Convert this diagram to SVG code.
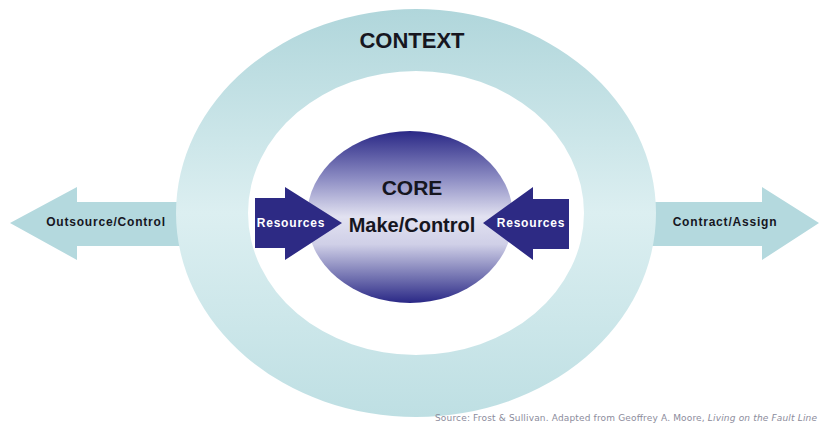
<svg xmlns="http://www.w3.org/2000/svg" width="820" height="427" viewBox="0 0 820 427">
  <defs>
    <linearGradient id="ringFill" x1="0" y1="0" x2="0" y2="1">
      <stop offset="0" stop-color="#b0d6db"/>
      <stop offset="0.5" stop-color="#dceff1"/>
      <stop offset="1" stop-color="#bedfe3"/>
    </linearGradient>
    <linearGradient id="coreFill" x1="0" y1="0" x2="0" y2="1">
      <stop offset="0" stop-color="#2a2886"/>
      <stop offset="0.28" stop-color="#8e8ec4"/>
      <stop offset="0.5" stop-color="#e2e2f1"/>
      <stop offset="0.66" stop-color="#cfcfe7"/>
      <stop offset="0.86" stop-color="#6e6eae"/>
      <stop offset="1" stop-color="#2a2886"/>
    </linearGradient>
    <style>
      .label { font-family: "Liberation Sans", Arial, sans-serif; font-weight: bold; text-anchor: middle; }
      .small { font-size: 12px; letter-spacing: 0.8px; }
      .dark { fill: #16161f; }
      .light { fill: #ffffff; }
      .tealArrow { fill: #b4d9de; }
      .navyArrow { fill: #2d2a84; }
      .source { font-family: "DejaVu Sans", Verdana, sans-serif; font-size: 9px; fill: #8c8c9c; }
    </style>
  </defs>

  <rect width="820" height="427" fill="#ffffff"/>

  <!-- outward arrows sit beneath the ring -->
  <g id="outsource">
    <polygon class="tealArrow" points="10,223 77,187 77,202 190,202 190,246 77,246 77,260"/>
    <text class="label small dark" x="106" y="226">Outsource/Control</text>
  </g>
  <g id="contract">
    <polygon class="tealArrow" points="645,202 762,202 762,187 819,223 762,260 762,246 645,246"/>
    <text class="label small dark" x="725" y="226">Contract/Assign</text>
  </g>

  <!-- context ring -->
  <g id="context">
    <path fill="url(#ringFill)" fill-rule="evenodd"
          d="M176,213 A240,204 0 1 0 656,213 A240,204 0 1 0 176,213 Z
             M248,213 A168,142 0 1 1 584,213 A168,142 0 1 1 248,213 Z"/>
    <text class="label dark" x="412" y="48" font-size="22">CONTEXT</text>
  </g>

  <!-- core ellipse -->
  <g id="core">
    <ellipse cx="410" cy="217" rx="103" ry="86" fill="url(#coreFill)"/>
    <text class="label dark" x="412" y="195" font-size="21">CORE</text>
    <text class="label dark" x="412" y="232" font-size="20">Make/Control</text>
  </g>

  <!-- inward resource arrows -->
  <g id="resources-left">
    <polygon class="navyArrow" points="255,198 285,198 285,187 342,223 285,260 285,248 255,248"/>
    <text class="label small light" x="291" y="227">Resources</text>
  </g>
  <g id="resources-right">
    <polygon class="navyArrow" points="569,199 533,199 533,187 483,223 533,260 533,249 569,249"/>
    <text class="label small light" x="531" y="227">Resources</text>
  </g>

  <g id="connectors"/>

  <text class="source" x="435" y="421" textLength="382" lengthAdjust="spacing">Source: Frost &amp; Sullivan. Adapted from Geoffrey A. Moore, <tspan font-style="italic">Living on the Fault Line</tspan></text>
</svg>
